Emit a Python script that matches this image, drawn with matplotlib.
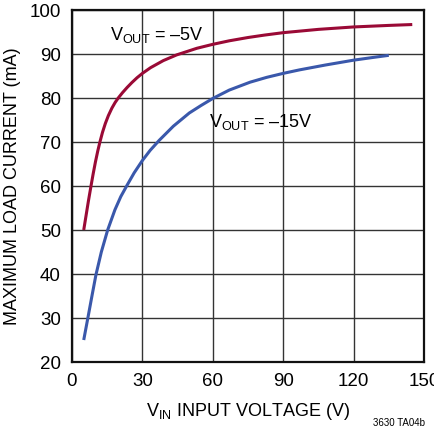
import numpy as np
import matplotlib
matplotlib.use("Agg")
import matplotlib.pyplot as plt

plt.rcParams['font.family'] = ['Liberation Sans', 'DejaVu Sans']
plt.rcParams['mathtext.fontset'] = 'custom'
plt.rcParams['mathtext.rm'] = 'Liberation Sans'
plt.rcParams['mathtext.it'] = 'Liberation Sans'

# VOUT = -5V curve
vin_5 = [5, 6, 7, 8.1, 9, 10, 11, 11.9, 13, 14.2, 15.5, 17, 18.4, 19.7, 21.5, 23.5, 25.5,
         27.7, 30, 33.5, 38.9, 44.6, 53.2, 60, 67, 75, 82, 90, 105, 120, 135, 145]
iout_5 = [50, 53.3, 56.6, 60, 62.7, 65.5, 68, 70, 72.2, 74.2, 76, 77.7, 79, 80, 81.2, 82.4, 83.5,
          84.6, 85.6, 86.9, 88.5, 89.8, 91.3, 92.2, 93.0, 93.75, 94.3, 94.85, 95.6, 96.15, 96.5, 96.7]

# VOUT = -15V curve
vin_15 = [5, 6.9, 8.5, 10.2, 12.5, 15.2, 18.3, 20.8, 23.6, 26.5, 30, 33.3, 37.2, 43.2, 50, 55, 60,
          67, 75.9, 83, 90, 97, 108, 120, 128, 135]
iout_15 = [25, 30.4, 35, 39.8, 45.0, 50, 54.6, 57.6, 60.3, 63.0, 65.8, 68.1, 70.4, 73.6, 76.6, 78.3, 79.9,
           81.8, 83.6, 84.7, 85.6, 86.4, 87.5, 88.6, 89.2, 89.7]

xticks = [0, 30, 60, 90, 120, 150]
yticks = [20, 30, 40, 50, 60, 70, 80, 90, 100]

fig = plt.figure(figsize=(4.35, 4.26), dpi=100)
ax = fig.add_axes([0.1655, 0.1502, 0.8092, 0.8263])

ax.plot(vin_5, iout_5, color='#9a0a36', lw=2.2, solid_capstyle='butt', solid_joinstyle='round', zorder=3)
ax.plot(vin_15, iout_15, color='#3a58ab', lw=2.2, solid_capstyle='butt', solid_joinstyle='round', zorder=3)

ax.set_xlim(0, 150)
ax.set_ylim(20, 100)
ax.set_xticks(xticks)
ax.set_yticks(yticks)
ax.grid(True, color='#333333', lw=1.0)
ax.set_axisbelow(True)
ax.tick_params(length=0, labelsize=13.5, pad=8)
for s in ax.spines.values():
    s.set_linewidth(1.6)
    s.set_color('#111111')

ax.text(16, 94.3, r'V$_{\mathrm{OUT}}$ = –5V', fontsize=13, va='center', ha='left')
ax.text(58.5, 74.6, r'V$_{\mathrm{OUT}}$ = –15V', fontsize=13, va='center', ha='left')

ax.set_xlabel(r'V$_{\mathrm{IN}}$ INPUT VOLTAGE (V)', fontsize=13, labelpad=8)
ax.set_ylabel('MAXIMUM LOAD CURRENT (mA)', fontsize=13, labelpad=6)

fig.text(0.858, -0.004, '3630 TA04b', fontsize=7, ha='left', va='bottom')

fig.savefig('out.png', dpi=100)
